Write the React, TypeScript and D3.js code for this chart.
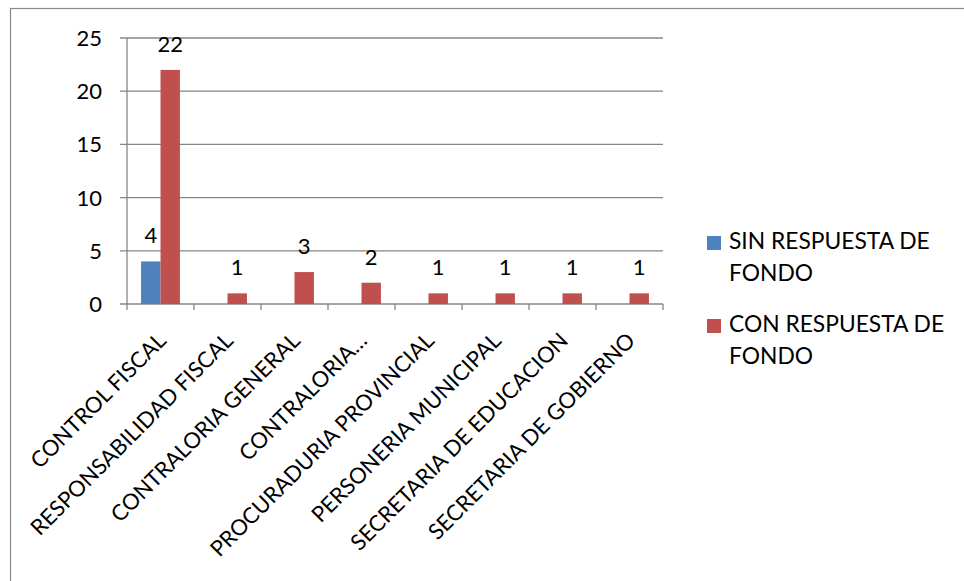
import React from "react";
import * as d3 from "d3";

const categories = [
  "CONTROL FISCAL",
  "RESPONSABILIDAD FISCAL",
  "CONTRALORIA GENERAL",
  "CONTRALORIA…",
  "PROCURADURIA PROVINCIAL",
  "PERSONERIA MUNICIPAL",
  "SECRETARIA DE EDUCACION",
  "SECRETARIA DE GOBIERNO",
];
const sinRespuesta = [4, 0, 0, 0, 0, 0, 0, 0];
const conRespuesta = [22, 1, 3, 2, 1, 1, 1, 1];
const seriesNames = ["SIN RESPUESTA DE FONDO", "CON RESPUESTA DE FONDO"];
const seriesColors = ["#4F81BD", "#C0504D"];
const yTicks = [0, 5, 10, 15, 20, 25];

const W = 964;
const H = 581;
const FONT = "Lato, 'Open Sans', sans-serif";
const FS = 22;
const FS_TXT = 22.8;
const FS_ROT = 22;

export default function App() {
  const left = 127;
  const right = 663;
  const top = 38;
  const bottom = 304;
  const x = d3.scaleBand<string>().domain(categories).range([left, right]).paddingInner(0.42).paddingOuter(0.21);
  const xOuter = d3.scaleBand<string>().domain(categories).range([left, right]);
  const y = d3.scaleLinear().domain([0, 25]).range([bottom, top]);
  const sub = d3.scaleBand<number>().domain([0, 1]).range([0, x.bandwidth()]);
  const series = [sinRespuesta, conRespuesta];
  const grid = "#868686";

  return (
    <svg width={W} height={H} style={{ position: "absolute", left: 0, top: 0, background: "#fff" }}>
      <rect x={10.5} y={8.5} width={W + 10} height={H + 10} fill="#fff" stroke="#898989" strokeWidth={1.2} />
      {yTicks.map((t) => (
        <g key={t}>
          <line x1={left - 7} x2={right} y1={y(t)} y2={y(t)} stroke={grid} strokeWidth={1.3} />
          <text x={102} y={y(t) + 8} textAnchor="end" fontFamily={FONT} fontSize={FS} fill="#000">
            {t}
          </text>
        </g>
      ))}
      <line x1={left} x2={left} y1={top} y2={bottom + 6} stroke={grid} strokeWidth={1.3} />
      {categories.map((c) => (
        <line key={c} x1={xOuter(c)! + xOuter.bandwidth()} x2={xOuter(c)! + xOuter.bandwidth()} y1={bottom} y2={bottom + 6} stroke={grid} strokeWidth={1.3} />
      ))}
      {series.map((vals, s) =>
        categories.map((c, i) => {
          const v = vals[i];
          const bx = x(c)! + sub(s)!;
          return (
            <g key={c + s}>
              {v > 0 && (
                <rect x={bx} y={y(v)} width={sub.bandwidth()} height={bottom - y(v)} fill={seriesColors[s]} />
              )}
              {v > 0 && (
                <text x={bx + sub.bandwidth() / 2} y={y(v) - 18} textAnchor="middle" fontFamily={FONT} fontSize={FS} fill="#000">
                  {v}
                </text>
              )}
            </g>
          );
        })
      )}
      {categories.map((c) => {
        const cx = xOuter(c)! + xOuter.bandwidth() / 2 + 7;
        return (
          <text key={c} transform={`translate(${cx},${bottom + 38}) rotate(-45)`} textAnchor="end" fontFamily={FONT} fontSize={FS_ROT} fill="#000">
            {c}
          </text>
        );
      })}
      {seriesNames.map((n, s) => {
        const words = n.split(" ");
        const l1 = words.slice(0, 3).join(" ");
        const l2 = words.slice(3).join(" ");
        const by = 249 + s * 83;
        return (
          <g key={n}>
            <rect x={707} y={by - 13} width={14} height={14} fill={seriesColors[s]} />
            <text x={729} y={by} fontFamily={FONT} fontSize={FS_TXT} fill="#000">{l1}</text>
            <text x={729} y={by + 32} fontFamily={FONT} fontSize={FS_TXT} fill="#000">{l2}</text>
          </g>
        );
      })}
    </svg>
  );
}
